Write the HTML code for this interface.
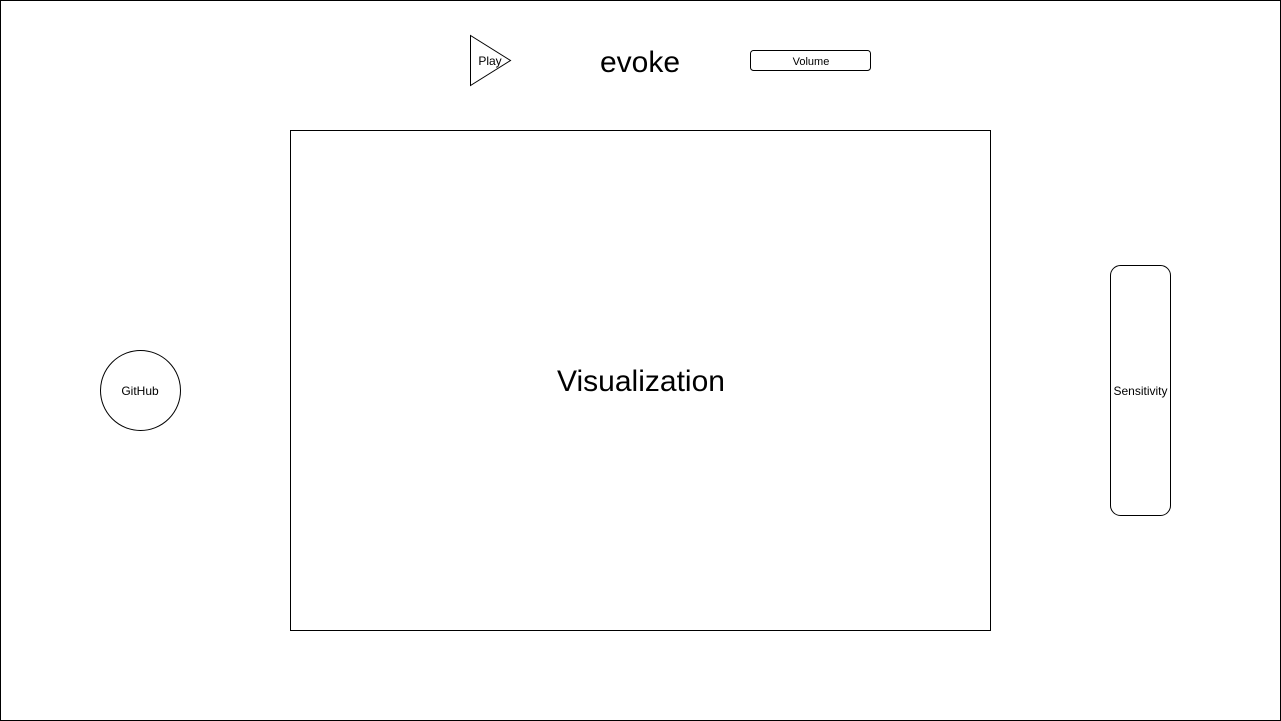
<!DOCTYPE html>
<html><head><meta charset="utf-8"><style>
html,body{margin:0;padding:0;background:#fff;}
svg{display:block;}
text{font-family:"Liberation Sans",Arial,sans-serif;fill:#000;}
</style></head><body>
<svg width="1281" height="721" viewBox="0 0 1281 721" xmlns="http://www.w3.org/2000/svg">
<rect x="0.5" y="0.5" width="1280" height="720" fill="#fff" stroke="#000"/>
<polygon points="470.5,35.5 470.5,85.5 510.5,60.5" fill="#fff" stroke="#000"/>
<text x="490" y="65" font-size="12" text-anchor="middle">Play</text>
<text x="640" y="72" font-size="30" text-anchor="middle">evoke</text>
<rect x="750.5" y="50.5" width="120" height="20" rx="3" fill="#fff" stroke="#000"/>
<text x="811" y="65" font-size="11" text-anchor="middle">Volume</text>
<rect x="290.5" y="130.5" width="700" height="500" fill="#fff" stroke="#000"/>
<text x="641" y="391" font-size="30" text-anchor="middle">Visualization</text>
<circle cx="140.5" cy="390.5" r="40" fill="#fff" stroke="#000"/>
<text x="140" y="395" font-size="12" text-anchor="middle">GitHub</text>
<rect x="1110.5" y="265.5" width="60" height="250" rx="10" fill="#fff" stroke="#000"/>
<text x="1140.5" y="395" font-size="12" text-anchor="middle">Sensitivity</text>
</svg>
</body></html>
